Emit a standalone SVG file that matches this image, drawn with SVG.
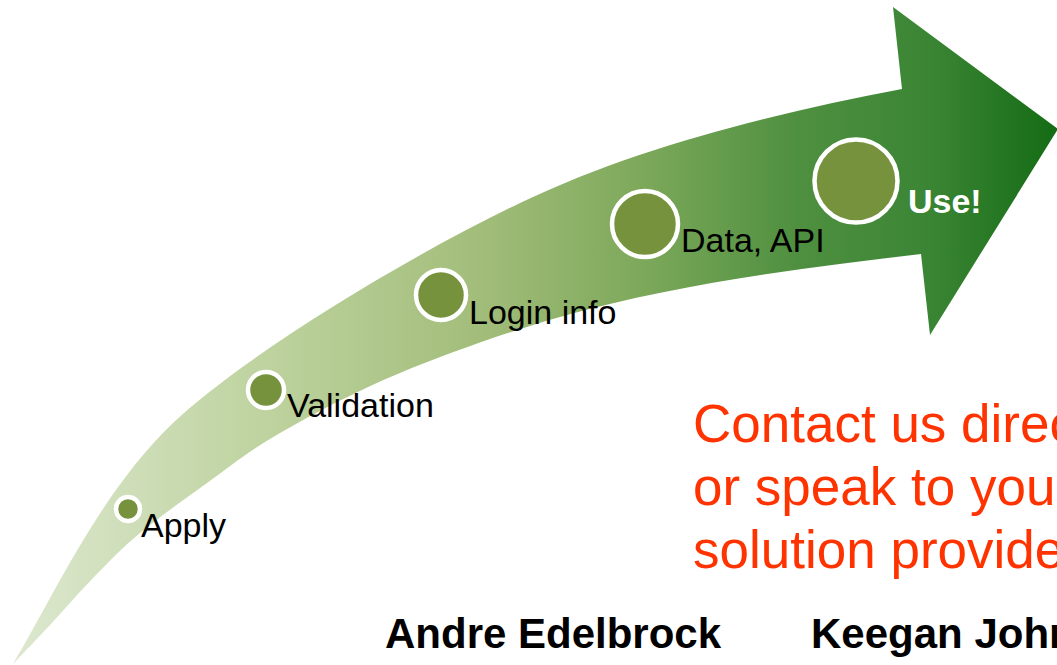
<svg xmlns="http://www.w3.org/2000/svg" width="1057" height="665" viewBox="0 0 1057 665">
  <defs>
    <linearGradient id="arrowGrad" gradientUnits="userSpaceOnUse" x1="10" y1="0" x2="1057" y2="0">
      <stop offset="0" stop-color="#dde8cf"/>
      <stop offset="0.25" stop-color="#bdd29e"/>
      <stop offset="0.45" stop-color="#a2bd7a"/>
      <stop offset="0.6" stop-color="#7ea95b"/>
      <stop offset="0.75" stop-color="#4f9040"/>
      <stop offset="0.88" stop-color="#3a8534"/>
      <stop offset="1" stop-color="#156c15"/>
    </linearGradient>
    <style>
      .dot { fill: #76923c; stroke: #ffffff; stroke-width: 4.5; }
      .lbl { font-family: "Liberation Sans", Arial, sans-serif; font-size: 34px; fill: #000000; }
      .use { font-family: "Liberation Sans", Arial, sans-serif; font-size: 34px; font-weight: bold; fill: #ffffff; }
      .contact { font-family: "Liberation Sans", Arial, sans-serif; font-size: 53px; fill: #ff3300; }
      .name { font-family: "Liberation Sans", Arial, sans-serif; font-size: 42px; font-weight: bold; fill: #000000; }
    </style>
  </defs>
  <rect x="0" y="0" width="1057" height="665" fill="#ffffff"/>
  <g id="connectors">
    <path id="arrow" fill="url(#arrowGrad)" d="M13,664 C54,595.3 100.5,491.9 173,423 C238.3,361 394,263.5 520,203 C637,146.8 774.3,113.3 902,89 L893,7 L1058,129 L930,335 L921,254 C801,268.4 680,283 560,317 C510,331 446.7,353.7 400,373 C353.3,392.3 312.2,414.7 280,433 C247.8,451.3 230.3,466.3 207,483 C183.7,499.7 158.7,517.5 140,533 C121.3,548.5 110,560.7 95,576 C80,591.3 63.7,610.3 50,625 C36.3,639.7 25.3,651 13,664 Z"/>
  </g>
  <g id="node-apply">
    <circle class="dot" cx="128" cy="509" r="12"/>
    <text class="lbl" x="141" y="537">Apply</text>
  </g>
  <g id="node-validation">
    <circle class="dot" cx="266" cy="390" r="18"/>
    <text class="lbl" x="287" y="417">Validation</text>
  </g>
  <g id="node-login">
    <circle class="dot" cx="441" cy="295" r="25"/>
    <text class="lbl" x="469" y="324">Login info</text>
  </g>
  <g id="node-data">
    <circle class="dot" cx="645" cy="224" r="33"/>
    <text class="lbl" x="681" y="252">Data, API</text>
  </g>
  <g id="node-use">
    <circle class="dot" cx="856" cy="181" r="41.5"/>
    <text class="use" x="908" y="213">Use!</text>
  </g>
  <g id="contact">
    <text class="contact" x="693" y="442">Contact us direc</text>
    <text class="contact" x="693" y="505">or speak to you</text>
    <text class="contact" x="693" y="568">solution provide</text>
  </g>
  <g id="names">
    <text class="name" x="385" y="648">Andre Edelbrock</text>
    <text class="name" x="811" y="648">Keegan John</text>
  </g>
</svg>
